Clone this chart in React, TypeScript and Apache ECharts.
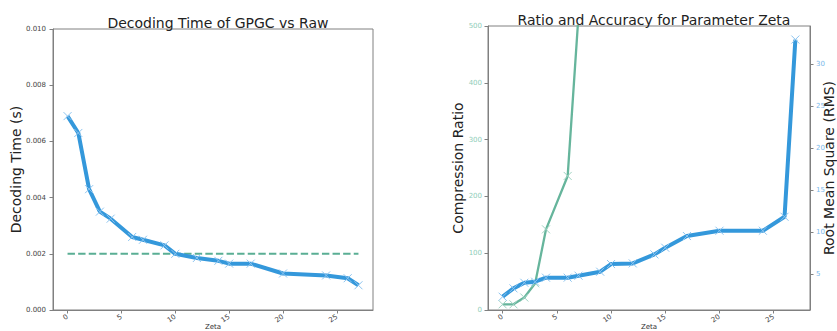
import React, { useEffect, useRef } from "react";
import * as echarts from "echarts";

const zeta = [0, 1, 2, 3, 4, 6, 7, 9, 10, 12, 14, 15, 17, 20, 24, 26, 27];
const decodingTime = [0.0069, 0.0063, 0.0043, 0.0035, 0.00325, 0.0026, 0.0025, 0.0023, 0.002, 0.00185, 0.00175, 0.00165, 0.00165, 0.0013, 0.00123, 0.00113, 0.00088];
const rawTime = 0.002;
const compressionRatio = [10, 10, 22, 47, 142, 236, 520, 900, 1200, 1600, 2100, 2400, 3000, 3800, 4800, 5400, 5800];
const rms = [2.34, 3.33, 4.0, 4.12, 4.6, 4.6, 4.84, 5.31, 6.22, 6.3, 7.37, 8.16, 9.55, 10.18, 10.18, 11.84, 32.9];
const xTicks = [0, 5, 10, 15, 20, 25];
const rmsTicks = [5, 10, 15, 20, 25, 30];

const FONT = "DejaVu Sans";
const BLUE = "#3498db";
const BLUE_MARK = "#8cc4f0";
const GREEN = "#66b59c";
const GREEN_MARK = "#9fd3c2";
const SPINE = "#808080";
const XSYM = "path://M0,0L10,10M10,0L0,10";

const pairs = (ys: number[]) => zeta.map((x, i) => [x, ys[i]]);

function xAxisCfg(gridIndex: number) {
  return {
    type: "value",
    gridIndex,
    min: -1.35,
    max: 28.35,
    name: "Zeta",
    nameLocation: "middle",
    nameGap: 13,
    nameMoveOverlap: false,
    nameTextStyle: { fontFamily: FONT, fontSize: 7, color: "#333" },
    axisLine: { show: true, onZero: false, lineStyle: { color: SPINE } },
    axisTick: { show: true, length: 3.5, lineStyle: { color: SPINE }, customValues: xTicks },
    axisLabel: { fontFamily: FONT, fontSize: 7, color: "#444", rotate: 35, margin: 6, customValues: xTicks },
    splitLine: { show: false },
  };
}

export default function App() {
  const ref = useRef<HTMLDivElement>(null);
  useEffect(() => {
    if (!ref.current) return;
    const chart = echarts.init(ref.current, undefined, { renderer: "svg" });
    chart.setOption({
      animation: false,
      backgroundColor: "#fff",
      title: [
        { text: "Decoding Time of GPGC vs Raw", left: 213, top: 11, textAlign: "center", textStyle: { fontFamily: FONT, fontSize: 14, fontWeight: "normal", color: "#222" } },
        { text: "Ratio and Accuracy for Parameter Zeta", left: 649, top: 8, textAlign: "center", textStyle: { fontFamily: FONT, fontSize: 14, fontWeight: "normal", color: "#222" } },
      ],
      grid: [
        { left: 53, top: 29, width: 320, height: 281, outerBoundsMode: "none", containLabel: false, show: true, borderColor: SPINE, borderWidth: 1, backgroundColor: "transparent" },
        { left: 488, top: 26, width: 322, height: 284, outerBoundsMode: "none", containLabel: false, show: true, borderColor: SPINE, borderWidth: 1, backgroundColor: "transparent" },
      ],
      xAxis: [xAxisCfg(0), xAxisCfg(1)],
      yAxis: [
        {
          type: "value", gridIndex: 0, min: 0, max: 0.01, interval: 0.002,
          name: "Decoding Time (s)", nameLocation: "middle", nameRotate: 90, nameGap: 30, nameMoveOverlap: false,
          nameTextStyle: { fontFamily: FONT, fontSize: 14, color: "#222" },
          axisLine: { show: true, onZero: false, lineStyle: { color: SPINE } },
          axisTick: { show: true, length: 3.5, lineStyle: { color: SPINE } },
          axisLabel: { fontFamily: FONT, fontSize: 7, color: "#444", margin: 7, formatter: (v: number) => v.toFixed(3) },
          splitLine: { show: false },
        },
        {
          type: "value", gridIndex: 1, min: 0, max: 500, interval: 100, position: "left",
          name: "Compression Ratio", nameLocation: "middle", nameRotate: 90, nameGap: 23, nameMoveOverlap: false,
          nameTextStyle: { fontFamily: FONT, fontSize: 14, color: "#222" },
          axisLine: { show: true, onZero: false, lineStyle: { color: SPINE } },
          axisTick: { show: true, length: 3.5, lineStyle: { color: SPINE } },
          axisLabel: { fontFamily: FONT, fontSize: 7, color: "#8fcdb9", margin: 6 },
          splitLine: { show: false },
        },
        {
          type: "value", gridIndex: 1, min: 0.76, max: 34.51, position: "right",
          name: "Root Mean Square (RMS)", nameLocation: "middle", nameRotate: 90, nameGap: 12, nameMoveOverlap: false,
          nameTextStyle: { fontFamily: FONT, fontSize: 14, color: "#222" },
          axisLine: { show: true, onZero: false, lineStyle: { color: SPINE } },
          axisTick: { show: true, length: 3.5, lineStyle: { color: SPINE }, customValues: rmsTicks },
          axisLabel: { fontFamily: FONT, fontSize: 7, color: "#7ab8ea", margin: 6, customValues: rmsTicks },
          splitLine: { show: false },
        },
      ],
      series: [
        {
          type: "line", xAxisIndex: 0, yAxisIndex: 0, data: [[zeta[0], rawTime], [zeta[zeta.length - 1], rawTime]],
          showSymbol: false, symbol: "none", lineStyle: { color: "#5aae94", width: 2, type: [7.4, 3.2] }, z: 2,
        },
        {
          type: "line", xAxisIndex: 0, yAxisIndex: 0, data: pairs(decodingTime),
          symbol: XSYM, symbolSize: 8, lineStyle: { color: BLUE, width: 4 },
          itemStyle: { color: "transparent", borderColor: BLUE_MARK, borderWidth: 1 }, z: 3,
        },
        {
          type: "line", xAxisIndex: 1, yAxisIndex: 1, data: pairs(compressionRatio), clip: true,
          symbol: XSYM, symbolSize: 8, lineStyle: { color: GREEN, width: 2.3 },
          itemStyle: { color: "transparent", borderColor: GREEN_MARK, borderWidth: 1 }, z: 2,
        },
        {
          type: "line", xAxisIndex: 1, yAxisIndex: 2, data: pairs(rms),
          symbol: XSYM, symbolSize: 8, lineStyle: { color: BLUE, width: 4 },
          itemStyle: { color: "transparent", borderColor: BLUE_MARK, borderWidth: 1 }, z: 3,
        },
      ],
    });
    return () => chart.dispose();
  }, []);
  return <div ref={ref} style={{ position: "fixed", left: 0, top: 0, width: 837, height: 331 }} />;
}
